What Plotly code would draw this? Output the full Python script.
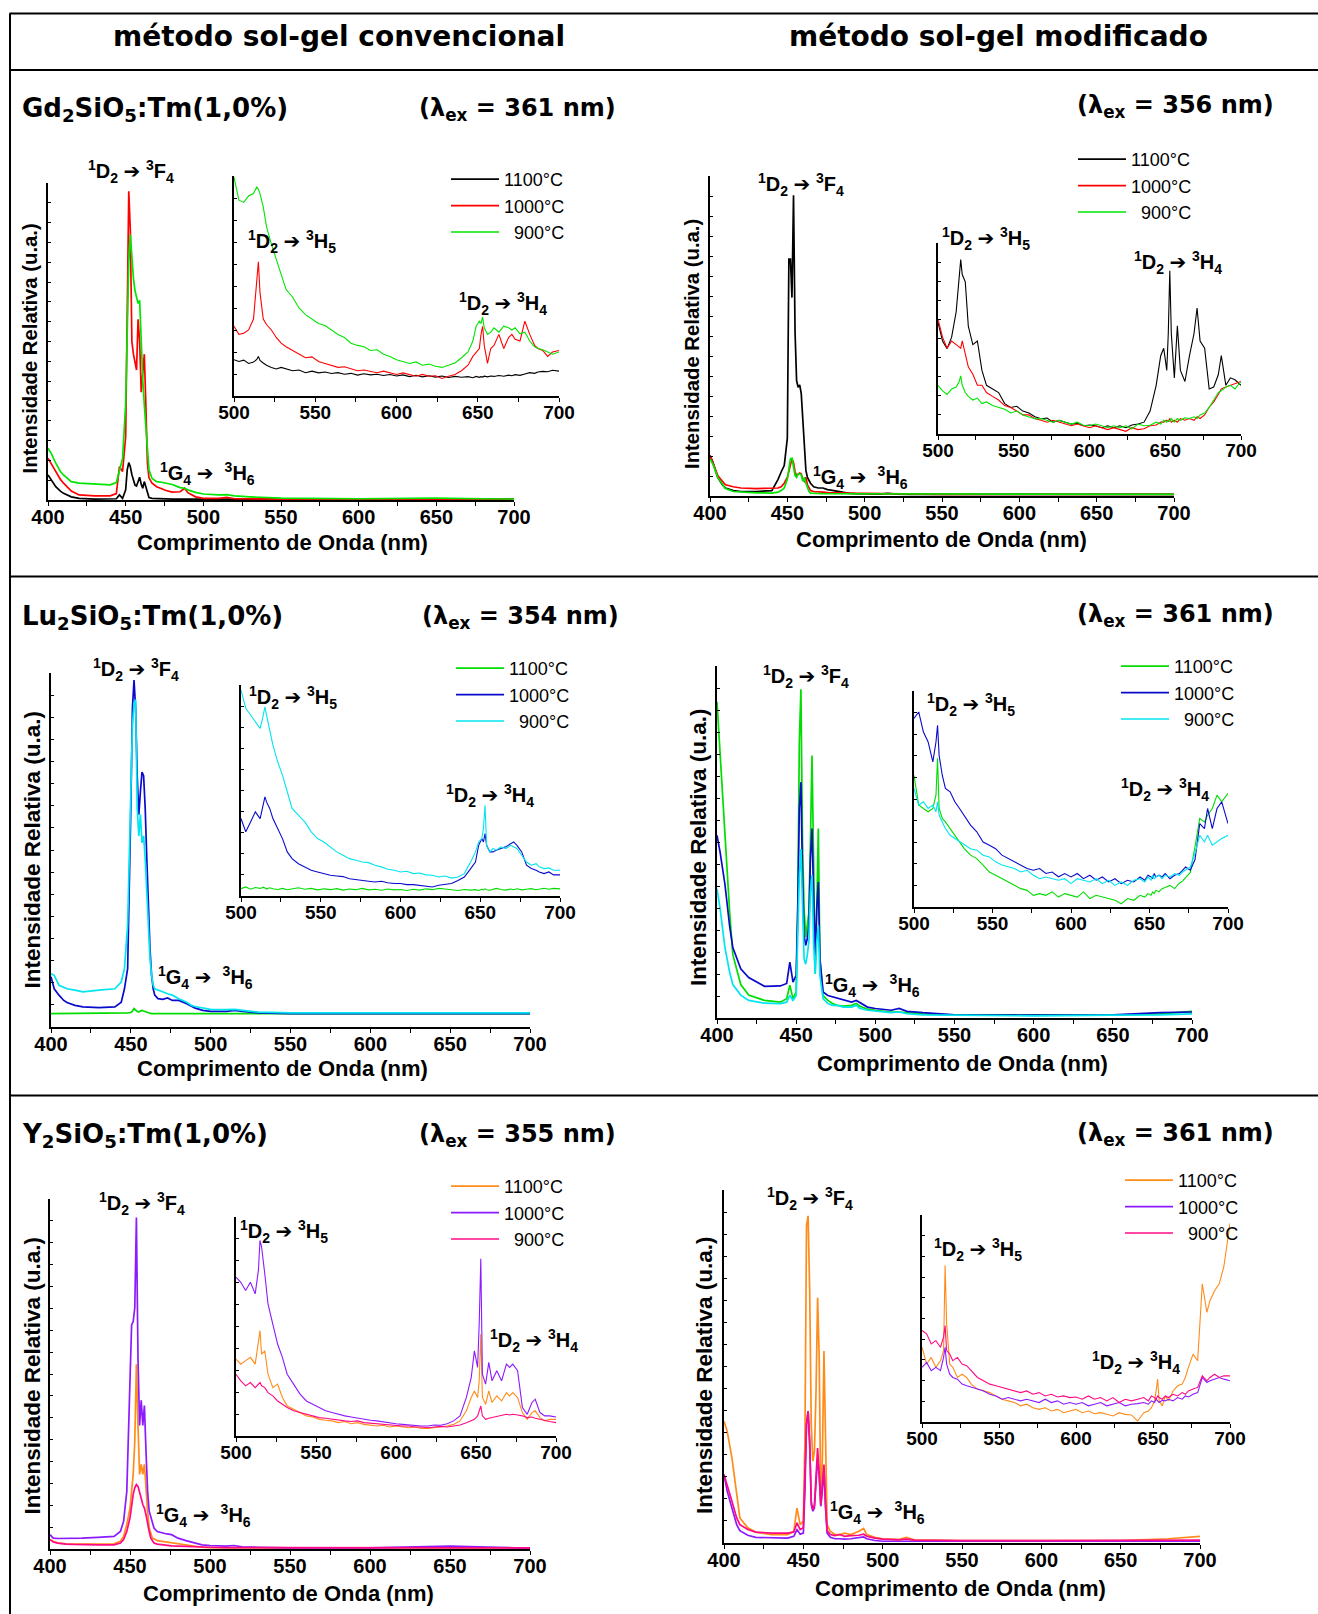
import plotly.graph_objects as go

# ---------------------------------------------------------------- data
X_MAIN = [400, 402, 405, 408, 410, 415, 420, 430, 440, 444,
          446, 448, 450, 451, 452, 453, 454, 455, 456, 457,
          458, 459, 460, 461, 462, 463, 464, 465, 467, 470,
          473, 476, 480, 485, 488, 490, 495, 500, 510, 515,
          520, 530, 550, 600, 650, 680, 700]

X_INSET = [500, 503, 506, 509, 512, 514, 515, 516, 518, 520,
           523, 526, 529, 532, 536, 540, 544, 548, 552, 556,
           560, 564, 568, 572, 576, 580, 584, 588, 592, 596,
           600, 604, 608, 612, 616, 620, 624, 628, 632, 636,
           640, 644, 647, 649, 651, 652, 653, 654, 656, 658,
           660, 663, 666, 669, 671, 673, 676, 679, 682, 685,
           687, 690, 693, 696, 700]

SERIES_LABELS = ["1100°C", "1000°C", "\u2007900°C"]

MAIN_TICKS = [400, 450, 500, 550, 600, 650, 700]
INSET_TICKS = [500, 550, 600, 650, 700]

# --- Gd2SiO5:Tm, conventional sol-gel
GD_CONV_MAIN_1100 = [7.9, 6.3, 4.2, 2.8, 2.1, 1.0, 0.5, 0.3, 0.3, 0.4,
                     1.6, 0.5, 3.2, 9.5, 11.8, 10.5, 8.0, 6.0, 4.7, 4.4,
                     5.8, 7.2, 5.0, 3.7, 5.8, 4.2, 2.1, 0.8, 0.5, 0.4,
                     0.4, 0.4, 0.3, 0.3, 0.3, 0.3, 0.3, 0.3, 0.3, 0.4,
                     0.3, 0.3, 0.3, 0.3, 0.3, 0.3, 0.3]
GD_CONV_MAIN_1000 = [13.2, 11.5, 9.0, 6.5, 5.3, 2.8, 1.6, 1.3, 1.3, 2.0,
                     10.5, 9.0, 20, 62, 97.4, 85, 50, 46, 43, 41,
                     57, 50, 34, 40, 46, 30, 11.6, 7.0, 5.3, 4.2,
                     3.5, 3.0, 2.5, 2.6, 3.7, 2.3, 1.0, 0.5, 0.5, 0.8,
                     0.4, 0.3, 0.3, 0.3, 0.3, 0.3, 0.3]
GD_CONV_MAIN_900 = [16.3, 14.8, 11.6, 9.0, 7.9, 5.8, 5.3, 5.0, 4.8, 5.5,
                    9.0, 13, 30.5, 55, 75, 83.7, 76, 70, 66, 64,
                    62, 63, 47, 38, 30, 22, 13.7, 9.5, 6.8, 5.8,
                    5.6, 5.3, 4.9, 3.9, 3.7, 3.2, 2.4, 1.9, 1.6, 1.7,
                    1.3, 1.0, 0.6, 0.4, 0.6, 0.4, 0.3]
GD_CONV_INSET_1100 = [16.5, 15.7, 16.3, 14.8, 15.4, 16.6, 18, 16.2, 15, 14,
                      13, 12.3, 13, 12.3, 11.5, 11.8, 10.6, 11.3, 10.5, 10.9,
                      10.2, 10.6, 9.9, 10.3, 9.5, 10.1, 9.6, 9.9, 9.3, 9.8,
                      9.1, 9.6, 8.8, 9.4, 8.7, 9.2, 8.6, 9.1, 8.4, 8.9,
                      8.5, 8.8, 8.3, 8.9, 8.5, 8.8, 8.6, 9.0, 8.7, 9.1,
                      8.9, 9.3, 9.0, 9.5, 9.2, 9.7, 9.4, 10.0, 10.6, 10.3,
                      10.9, 11.2, 11.0, 11.7, 11.3]
GD_CONV_INSET_1000 = [31.7, 28, 28.5, 30, 35, 52, 61, 47, 35, 32.5,
                      30, 26.6, 24, 22.4, 20.7, 19, 17.4, 17.8, 15.7, 14.8,
                      14, 13, 13.3, 12.3, 11.5, 11.8, 11.2, 10.6, 11.3, 10.4,
                      9.8, 10.5, 9.6, 9, 9.8, 9, 9.2, 8, 9, 9.8,
                      11.5, 14, 18, 20, 21.6, 28, 31.7, 23, 14.8, 21.6,
                      23, 28, 21.6, 26.6, 28, 25.8, 25, 34, 28, 23,
                      21.6, 20.7, 18, 20, 20.7]
GD_CONV_INSET_900 = [99.5, 89, 88, 91, 92, 95, 94, 92, 86, 77,
                     69, 62, 55, 48.5, 45, 40, 37, 35, 33, 32,
                     30, 28, 26.6, 24, 23, 22.4, 20.7, 21, 19, 18,
                     16.5, 15.7, 14.8, 15.5, 14, 14.5, 13.5, 13, 14, 15,
                     17.4, 20, 25, 31.7, 34, 33, 36, 31, 28, 29,
                     31, 29, 31.7, 31, 30, 31, 28.3, 29, 25, 22.4,
                     21.6, 21, 20, 19, 20]

# --- Gd2SiO5:Tm, modified sol-gel
GD_MOD_MAIN_1100 = [12.7, 10.4, 5.8, 3.5, 2.5, 1.7, 1.4, 1.4, 1.7, 5.2,
                    7.5, 9.5, 18, 74, 74, 62, 94, 51, 36, 34,
                    34.7, 32, 24, 16, 8, 5.8, 4.6, 4.0, 2.9, 2.5,
                    2.5, 2.0, 1.7, 1.2, 1.0, 0.8, 0.7, 0.6, 0.6, 0.8,
                    0.6, 0.5, 0.5, 0.5, 0.6, 0.5, 0.5]
GD_MOD_MAIN_1000 = [12.7, 10.4, 6.4, 4.6, 3.5, 2.9, 2.5, 2.3, 2.3, 2.5,
                    2.9, 4.0, 5.8, 8.0, 10.4, 11.6, 10.4, 7.5, 6.4, 6.9,
                    7.2, 6.9, 5.2, 4.6, 5.8, 3.5, 2.3, 1.7, 1.4, 1.2,
                    1.2, 1.1, 1.0, 1.0, 0.9, 0.9, 0.8, 0.8, 0.7, 0.8,
                    0.6, 0.6, 0.5, 0.5, 0.5, 0.5, 0.5]
GD_MOD_MAIN_900 = [11.6, 9.8, 5.8, 3.5, 2.3, 1.4, 1.2, 1.0, 0.9, 1.2,
                   1.7, 2.5, 5.2, 9.0, 11.6, 11.8, 9.2, 6.4, 5.8, 6.9,
                   6.9, 6.6, 4.6, 5.8, 4.0, 2.3, 1.4, 0.9, 0.8, 0.8,
                   0.7, 0.7, 0.7, 0.6, 0.6, 0.6, 0.6, 0.6, 0.6, 0.7,
                   0.6, 0.6, 0.6, 0.5, 0.6, 0.5, 0.5]
GD_MOD_INSET_1100 = [58.4, 48.7, 44.7, 50.7, 64, 79.7, 91.3, 83.5, 79.7, 56.5,
                     46.8, 48.7, 33.3, 25.5, 23.6, 21.7, 15.9, 13.9, 14.5, 12,
                     11, 9, 8, 8.4, 6.2, 7.1, 6.2, 5.2, 5.6, 4.3,
                     4.7, 4.3, 3.3, 4.3, 3.3, 4.3, 3.3, 4.7, 5.2, 6.2,
                     12, 25.5, 41, 44.9, 33.3, 52.6, 85.5, 52.6, 29.4, 56.6,
                     33.3, 27.5, 41, 52.6, 66, 48.7, 44.9, 23.6, 24.6, 31,
                     41, 25.5, 29.4, 28.4, 25.5]
GD_MOD_INSET_1000 = [60, 50.7, 44.9, 48.7, 46.8, 45.8, 44.9, 48.7, 41, 35.2,
                     31.3, 25.5, 25.5, 21.7, 19.7, 17.8, 14.9, 13.9, 12, 10,
                     10, 8, 7.2, 6.2, 7.2, 6.2, 5.2, 4.3, 5.2, 4.3,
                     3.3, 4.3, 3.3, 2.3, 3.3, 2.3, 1.4, 3.3, 2.3, 2.7,
                     4.3, 4.7, 6.2, 6.2, 7.2, 6.6, 8.1, 6.2, 7.2, 6.2,
                     8.1, 7.2, 8.1, 7.2, 9, 8.1, 10, 14, 16.8, 20.7,
                     23.6, 24.6, 25.5, 26.5, 27.5]
GD_MOD_INSET_900 = [25.5, 22.6, 20.7, 23.6, 24.6, 27.5, 30.4, 25.5, 21.7, 19.7,
                    17.8, 18.8, 15.9, 16.8, 14.9, 13.9, 13, 11, 12, 10,
                    9, 8, 8.1, 7.2, 6.2, 7.2, 6.2, 5.2, 6.2, 4.6,
                    4.3, 5.2, 4.3, 3.3, 4.3, 3.3, 4.3, 2.7, 5.2, 4.3,
                    4.6, 6.2, 5.2, 7.2, 6.2, 7.2, 6.6, 8.1, 6.2, 8.1,
                    7.2, 8.5, 8.1, 9, 8.1, 10, 11, 13.9, 17.8, 21.7,
                    22.6, 24.6, 25.5, 23.6, 27.5]

# --- Lu2SiO5:Tm, conventional sol-gel
LU_CONV_MAIN_1100 = [3.8, 3.8, 3.8, 3.8, 3.8, 3.8, 3.8, 3.8, 3.8, 3.9,
                     3.9, 4.0, 4.1, 4.5, 5.2, 4.8, 4.4, 4.3, 4.6, 4.7,
                     4.5, 4.3, 4.1, 4.0, 3.9, 3.8, 3.8, 3.8, 3.8, 3.8,
                     3.8, 3.8, 3.8, 3.8, 3.8, 3.8, 3.8, 3.8, 3.8, 3.8,
                     3.8, 3.8, 3.8, 3.8, 3.8, 3.8, 3.8]
LU_CONV_MAIN_1000 = [14.2, 10.8, 9.0, 7.5, 6.9, 6.1, 5.7, 5.5, 5.7, 7.0,
                     10.8, 16.5, 61.8, 90, 98, 90, 71, 60, 66.5, 72,
                     71, 61.8, 47.6, 33.5, 22, 14.6, 10.8, 9.0, 8.0, 7.8,
                     8.2, 7.5, 7.5, 6.6, 5.9, 5.4, 4.7, 4.4, 4.4, 4.7,
                     4.4, 4.0, 3.8, 3.8, 4.0, 4.0, 3.8]
LU_CONV_MAIN_900 = [15, 14.6, 11.8, 11.2, 10.8, 10.4, 9.9, 10.4, 10.8, 12.7,
                    16.5, 28.8, 71, 85, 91.5, 92.5, 61.8, 54, 60, 52,
                    54, 47.6, 38, 28.8, 19.4, 14.6, 11.8, 10.8, 10.4, 9.9,
                    9.4, 9.0, 8.0, 7.0, 6.1, 5.8, 5.4, 5.0, 4.9, 5.0,
                    4.7, 4.2, 4.0, 4.0, 4.2, 4.0, 4.0]
LU_CONV_INSET_1100 = [3.5, 4.3, 3.2, 4.0, 3.6, 4.2, 3.8, 3.3, 3.9, 3.4,
                      3.1, 3.6, 3.0, 3.5, 3.9, 3.2, 3.6, 2.9, 3.4, 3.0,
                      3.5, 2.8, 3.3, 3.0, 3.6, 2.9, 3.2, 2.7, 3.3, 2.9,
                      3.1, 2.6, 3.2, 2.8, 3.4, 3.0, 3.6, 3.3, 2.9, 2.6,
                      3.1, 2.8, 3.0, 2.6, 3.2, 2.9, 3.4, 3.0, 2.7, 3.3,
                      3.6, 3.1, 2.8, 3.3, 3.0, 3.4, 2.9, 3.2, 3.5, 3.0,
                      3.3, 3.7, 3.2, 3.6, 3.4]
LU_CONV_INSET_1000 = [36.7, 30.4, 35.1, 39.9, 36.7, 44.6, 47, 44.6, 41.5, 36.7,
                      32, 27.2, 20.9, 17.7, 15.3, 13.8, 12.2, 11.4, 10.6, 9.8,
                      9.5, 9.2, 8.2, 7.9, 7.4, 7, 6.6, 7, 6.3, 5.9,
                      5.9, 5.4, 5.4, 5.1, 4.7, 4.3, 5.1, 5.4, 5.9, 7.4,
                      9, 13, 16.1, 24, 27.2, 25.6, 29.6, 24, 20.9, 20.9,
                      21.7, 22.5, 23.3, 24.8, 25.6, 24, 20.9, 14.6, 13, 12.2,
                      11.4, 10.6, 11.4, 10, 10]
LU_CONV_INSET_900 = [97.6, 89, 85.8, 82.6, 79.4, 85.8, 89.7, 85.8, 77.8, 71.5,
                     63.6, 57.3, 49.4, 41.5, 38.3, 35.1, 30.4, 27.2, 25.6, 23.3,
                     20.9, 19.3, 17.7, 16.9, 16.1, 15.8, 14.6, 13.8, 12.7, 12.2,
                     11.4, 11.7, 10.6, 10.9, 10, 9.8, 9, 9.5, 8.5, 9,
                     10.6, 16.1, 20.9, 25.6, 27.2, 32, 43, 24, 20.9, 22.5,
                     21.7, 23.3, 22.5, 24, 23.3, 22.5, 19.3, 16.1, 14.6, 15.3,
                     13.8, 13, 13.3, 12.2, 12.2]

# --- Lu2SiO5:Tm, modified sol-gel
LU_MOD_MAIN_1100 = [89.8, 74, 50, 30, 18, 9.5, 6.5, 5.0, 4.5, 5.5,
                    9.3, 5.5, 7.4, 31, 78.4, 93.4, 50, 31, 23, 26.3,
                    29.8, 50, 74.6, 45, 12.5, 31, 53.8, 16.8, 6.4, 5.0,
                    4.1, 3.6, 3.4, 3.6, 4.1, 3.4, 2.5, 2.2, 1.7, 1.7,
                    1.5, 1.2, 0.9, 0.8, 0.8, 1.2, 1.9]
LU_MOD_MAIN_1000 = [51.9, 47, 38, 26, 20, 14, 11.5, 9.0, 9.1, 9.8,
                    15.9, 10.2, 12.1, 31, 59.5, 67, 40.5, 23.5, 20.6, 22.5,
                    26.3, 45.3, 53.8, 31, 16.8, 31, 38.6, 16.8, 7.4, 6.4,
                    6.0, 5.5, 5.0, 4.5, 5.0, 4.5, 3.1, 2.7, 2.2, 2.7,
                    1.9, 1.5, 0.9, 0.8, 0.9, 1.5, 1.7]
LU_MOD_MAIN_900 = [36.7, 31, 20, 13, 9.5, 6.5, 5.0, 4.2, 4.1, 4.5,
                   6.4, 5.0, 6.4, 21.6, 40.5, 48, 31, 16.8, 15.3, 17.8,
                   21.6, 35.8, 40.5, 21.6, 12.5, 21.6, 26.3, 12.1, 5.5, 4.1,
                   3.6, 3.6, 3.1, 3.1, 3.6, 2.8, 2.2, 1.9, 1.5, 1.7,
                   1.2, 0.9, 0.8, 0.6, 0.8, 0.9, 1.2]
LU_MOD_INSET_1100 = [61, 47.2, 45.6, 44.1, 45.6, 51.8, 68.8, 45.6, 41, 39.4,
                     36.3, 33.2, 30.1, 27, 24, 22.4, 19.4, 16.2, 14.7, 13.1,
                     11.6, 10, 8.5, 7.7, 5.4, 6.2, 5.4, 7, 4.6, 6.2,
                     5.4, 4.6, 7, 3.9, 5.4, 4.6, 3.9, 3.1, 1.5, 3.9,
                     3.1, 5.4, 4.6, 6.2, 5.4, 7, 6.2, 7.7, 7, 8.5,
                     9, 10, 8.5, 11, 12, 13.5, 16, 28, 41, 39.4,
                     42.5, 45.6, 51.8, 48.7, 52.6]
LU_MOD_INSET_1000 = [87.3, 90.3, 81, 76.4, 67.2, 76.4, 84.1, 70.2, 61, 54.9,
                     53.3, 48.7, 45.6, 42.5, 37.9, 34.8, 30.1, 28.6, 27, 24,
                     22.4, 20.9, 19.4, 17.8, 17, 17.8, 15.5, 16.2, 14, 15.5,
                     13.9, 15.5, 13.1, 14.7, 12.4, 13.9, 11.6, 13.1, 10.8, 12.4,
                     11.6, 13.9, 12.4, 14.7, 13.9, 13.1, 15.5, 13.9, 14.7, 13.9,
                     15.5, 13.1, 14.7, 15.5, 17, 18.5, 17, 22, 38.6, 36.3,
                     45.6, 36.3, 45.6, 48.7, 38.6]
LU_MOD_INSET_900 = [54.9, 47.2, 48.7, 45.6, 47.2, 44.1, 48.7, 42.5, 39.4, 36.3,
                    33.2, 31.7, 30.1, 28.6, 27, 26.3, 24, 23.2, 20.9, 19.4,
                    18.5, 17.8, 16.2, 17, 14.7, 13.1, 13.9, 13.1, 12.4, 13.1,
                    10.8, 13.1, 12.4, 11.6, 13.1, 10.8, 12.4, 10, 11.6, 10,
                    12.4, 13.1, 11.6, 13.9, 12.4, 14.7, 13.1, 13.9, 14.7, 13.1,
                    14.7, 13.9, 15.5, 14.7, 16.2, 17, 18.5, 25, 33.2, 30.1,
                    33.2, 28.6, 30.1, 31.7, 33.2]

# --- Y2SiO5:Tm, conventional sol-gel
Y_CONV_MAIN_1100 = [2.7, 2.2, 1.7, 1.5, 1.5, 1.4, 1.4, 1.4, 1.5, 2.2,
                    3.6, 7.0, 11.7, 16.5, 21.3, 30.8, 52.8, 35.3, 21.3, 24.2,
                    21.3, 24.2, 16.5, 10.8, 6.0, 4.1, 3.1, 2.9, 2.4, 2.2,
                    2.0, 1.7, 1.4, 1.0, 0.8, 0.7, 0.5, 0.4, 0.3, 0.4,
                    0.3, 0.3, 0.3, 0.3, 0.4, 0.3, 0.3]
Y_CONV_MAIN_1000 = [4.1, 3.1, 3.0, 3.0, 3.1, 3.1, 3.1, 3.3, 3.6, 5.0,
                    7.9, 16.5, 45, 64, 65, 69, 94.7, 54.4, 35.3, 42.5,
                    35.3, 41, 28, 16.5, 10.8, 8.9, 7.0, 6.0, 5.0, 4.6,
                    4.3, 4.1, 3.1, 2.4, 2.0, 1.7, 1.2, 1.0, 0.8, 1.0,
                    0.6, 0.5, 0.3, 0.3, 0.8, 0.5, 0.2]
Y_CONV_MAIN_900 = [2.7, 2.0, 1.7, 1.5, 1.4, 1.3, 1.2, 1.2, 1.2, 1.7,
                   2.7, 5.0, 8.9, 12.7, 15.6, 17.5, 18.4, 17.9, 16.5, 14.5,
                   12.7, 11.7, 9.8, 7.0, 5.0, 3.1, 2.2, 1.7, 1.4, 1.2,
                   1.0, 0.9, 0.8, 0.7, 0.6, 0.6, 0.5, 0.5, 0.4, 0.4,
                   0.3, 0.3, 0.3, 0.3, 0.3, 0.3, 0.3]
Y_CONV_INSET_1100 = [35.1, 32.8, 34.4, 35.9, 32.8, 42, 48.1, 37.4, 38.9, 28.2,
                     22.1, 23.7, 17.6, 13.7, 12.2, 10.7, 9.2, 8.7, 7.6, 7.2,
                     6.9, 6.1, 6.6, 5.6, 6.1, 5.3, 5.0, 4.6, 4.9, 4.1,
                     4.6, 4.1, 3.8, 4.1, 3.5, 3.5, 3.8, 4.1, 4.6, 5.3,
                     6.9, 11.5, 17.6, 20.6, 17.6, 25.2, 46.6, 17.6, 14.5, 20.6,
                     15.3, 18.3, 16, 19.8, 18.3, 19.8, 17.6, 10.7, 7.6, 10.7,
                     11.5, 8.4, 6.9, 7.6, 7.6]
Y_CONV_INSET_1000 = [72.5, 70.2, 66.4, 70.2, 64.9, 75.6, 89.3, 86.3, 74, 60.3,
                     51.1, 42, 35.9, 28.2, 23.7, 19.1, 16, 14.5, 13, 11.5,
                     10.7, 9.9, 9.2, 8.7, 8.1, 7.6, 7.2, 6.9, 6.4, 6.1,
                     5.6, 5.3, 5.0, 4.9, 4.6, 4.6, 5.0, 4.9, 5.6, 6.9,
                     9.2, 17.6, 26.7, 38.9, 31.3, 51.1, 80.9, 28.2, 23.7, 33.6,
                     25.2, 29.8, 25.2, 32.8, 31.3, 32.8, 29.8, 13, 9.9, 15.3,
                     16.8, 10.7, 9.2, 9.2, 8.7]
Y_CONV_INSET_900 = [28.2, 25.2, 22.9, 24.4, 22.1, 23.7, 24.4, 22.9, 22.1, 19.8,
                    18.3, 16, 14.5, 13, 11.5, 10.7, 9.9, 9.2, 8.4, 8.1,
                    7.6, 7.2, 6.9, 6.6, 6.9, 6.1, 5.8, 5.6, 5.3, 5.0,
                    4.9, 4.6, 4.6, 4.1, 4.1, 3.8, 4.1, 4.4, 4.1, 4.6,
                    5.0, 6.1, 6.9, 7.6, 9.2, 11.5, 13.7, 9.2, 7.6, 8.1,
                    8.4, 8.7, 9.2, 9.9, 9.6, 9.9, 9.6, 9.2, 8.4, 8.7,
                    8.1, 7.6, 6.9, 6.6, 6.1]

# --- Y2SiO5:Tm, modified sol-gel
Y_MOD_MAIN_1100 = [34.5, 31.7, 24.1, 14.7, 7.1, 4.3, 3.1, 2.4, 2.4, 3.3,
                   9.9, 5.2, 6.2, 28.9, 90, 92.7, 71.5, 33.6, 23.2, 26,
                   43, 69.5, 52.5, 10.8, 24, 54.4, 24, 5.2, 3.3, 2.4,
                   2.4, 2.8, 2.4, 3.3, 4.1, 2.4, 1.6, 1.2, 1.0, 1.6,
                   0.9, 0.8, 0.7, 0.7, 0.7, 1.2, 1.9]
Y_MOD_MAIN_1000 = [19.4, 14.7, 9.9, 5.2, 3.5, 2.2, 1.6, 1.4, 1.4, 1.9,
                   3.8, 2.5, 2.8, 14.7, 33.6, 37.4, 28.9, 10.8, 9.0, 9.9,
                   16.5, 24, 19.4, 10.4, 14.7, 21.3, 9.9, 2.8, 1.6, 1.2,
                   1.2, 1.1, 1.2, 1.4, 1.7, 1.2, 0.7, 0.5, 0.5, 0.6,
                   0.5, 0.5, 0.5, 0.5, 0.5, 0.5, 0.5]
Y_MOD_MAIN_900 = [19.4, 16.6, 11.8, 7.1, 5.2, 3.8, 3.1, 2.8, 2.8, 3.1,
                  5.7, 3.8, 4.3, 19.4, 33.6, 37.4, 28, 11.8, 9.5, 10.8,
                  19.4, 26.9, 19.4, 10.8, 16.6, 22.2, 10.8, 3.5, 2.4, 2.1,
                  2.4, 1.9, 2.1, 2.2, 2.5, 1.9, 1.4, 1.1, 0.9, 1.1,
                  0.8, 0.7, 0.7, 0.7, 0.7, 0.8, 0.8]
Y_MOD_INSET_1100 = [36.1, 28, 31.2, 26.4, 29.6, 34.5, 75.7, 47.4, 28, 26.4,
                    21.5, 23.1, 21.5, 18.3, 15.9, 15, 14.2, 12.6, 11, 10.2,
                    9.4, 7.8, 8.6, 6.9, 6.1, 6.9, 5.3, 6.1, 4.5, 5.3,
                    6.1, 4.5, 5.3, 4, 4.5, 3.7, 2.9, 4.5, 3.7, 3.4,
                    0.5, 4.5, 5.3, 6.9, 10.2, 15, 20.7, 10.2, 7.8, 12.6,
                    10.2, 15, 17.5, 18.3, 21.5, 26.4, 32.8, 29.6, 66.8, 53,
                    58.6, 63.4, 66.8, 75, 96]
Y_MOD_INSET_1000 = [26.4, 28.8, 24.8, 26.4, 24.8, 31.2, 36.1, 28, 23.1, 21.5,
                    20.7, 18.3, 17.5, 16.7, 15.9, 15, 13.4, 12.6, 11, 11.8,
                    11, 10.2, 11, 10.2, 9.4, 11, 9.4, 10.2, 8.6, 9.4,
                    8.6, 9.4, 7.8, 8.6, 9.4, 7.8, 8.6, 9.4, 7.8, 8.6,
                    8.9, 9.4, 8.6, 10.2, 9.4, 11, 10.2, 9.4, 10.5, 10.2,
                    11, 10.2, 11.8, 11, 12.6, 12.1, 13.4, 14.2, 21.5, 19.1,
                    19.9, 20.7, 21.5, 20.7, 19.9]
Y_MOD_INSET_900 = [44.2, 42.6, 37.7, 39.3, 36.1, 41, 46.6, 34.5, 32.8, 29.6,
                   31.2, 28, 27.2, 24.8, 21.5, 19.9, 18.3, 17.5, 16.7, 15.9,
                   15, 14.2, 15, 13.4, 14.2, 12.6, 13.4, 12.1, 12.6, 11.8,
                   12.1, 11, 12.6, 11, 11.8, 10.2, 11.8, 9.4, 11, 10.2,
                   11, 11.8, 10.2, 12.6, 11.8, 11, 12.6, 11.8, 11, 12.6,
                   11.8, 13.4, 12.6, 14.2, 13.4, 15, 15.9, 16.7, 22.3, 19.9,
                   21.5, 23.1, 21.5, 22.3, 22.3]

# ---------------------------------------------------------------- layout helpers
W, H = 1318, 1614


def hx(v):
    return v / W


def vy(v):
    return 1 - v / H


TITLE_FONT = "DejaVu Sans"
ARIAL = "Liberation Sans"
ARROW = "<span style='font-family:DejaVu Sans'>\u2794</span>"

F4 = f"<sup>1</sup>D<sub>2</sub> {ARROW} <sup>3</sup>F<sub>4</sub>"
G4 = f"<sup>1</sup>G<sub>4</sub> {ARROW}  <sup>3</sup>H<sub>6</sub>"
H5 = f"<sup>1</sup>D<sub>2</sub> {ARROW} <sup>3</sup>H<sub>5</sub>"
H4 = f"<sup>1</sup>D<sub>2</sub> {ARROW} <sup>3</sup>H<sub>4</sub>"

PANELS = [
    dict(main=[GD_CONV_MAIN_1100, GD_CONV_MAIN_1000, GD_CONV_MAIN_900],
         inset=[GD_CONV_INSET_1100, GD_CONV_INSET_1000, GD_CONV_INSET_900],
         colors=["#000000", "#ff0000", "#00e600"],
         mbox=(48, 514, 183, 500), ibox=(234, 559, 176, 396),
         leg=(446, 161), ytitle=(29.5, 349, 20.3), xtitle=(282, 543),
         ann=[(F4, 131, 172), (G4, 207, 473), (H5, 292, 242), (H4, 503, 303)],
         label=("Gd<sub>2</sub>SiO<sub>5</sub>:Tm(1,0%)", 20, 109),
         lam=("(\u03bb<sub>ex</sub> = 361 nm)", 417, 109, "left")),
    dict(main=[GD_MOD_MAIN_1100, GD_MOD_MAIN_1000, GD_MOD_MAIN_900],
         inset=[GD_MOD_INSET_1100, GD_MOD_INSET_1000, GD_MOD_INSET_900],
         colors=["#000000", "#ff0000", "#00e600"],
         mbox=(710, 1174, 176, 496), ibox=(938, 1241, 243, 434),
         leg=(1073, 141), ytitle=(692, 344, 20.3), xtitle=(941, 539),
         ann=[(F4, 801, 184), (G4, 860, 477), (H5, 986, 238), (H4, 1178, 263)],
         label=None,
         lam=("(\u03bb<sub>ex</sub> = 356 nm)", 1276, 107, "right")),
    dict(main=[LU_CONV_MAIN_1100, LU_CONV_MAIN_1000, LU_CONV_MAIN_900],
         inset=[LU_CONV_INSET_1100, LU_CONV_INSET_1000, LU_CONV_INSET_900],
         colors=["#00dd00", "#0a0acc", "#00e5f0"],
         mbox=(51, 530, 673, 1027), ibox=(241, 560, 685, 896),
         leg=(451, 650), ytitle=(31.5, 850, 22.5), xtitle=(282, 1068),
         ann=[(F4, 136, 669), (G4, 205, 978), (H5, 293, 697), (H4, 490, 795)],
         label=("Lu<sub>2</sub>SiO<sub>5</sub>:Tm(1,0%)", 20, 617),
         lam=("(\u03bb<sub>ex</sub> = 354 nm)", 420, 617, "left")),
    dict(main=[LU_MOD_MAIN_1100, LU_MOD_MAIN_1000, LU_MOD_MAIN_900],
         inset=[LU_MOD_INSET_1100, LU_MOD_INSET_1000, LU_MOD_INSET_900],
         colors=["#00dd00", "#0a0acc", "#00e5f0"],
         mbox=(717, 1192, 666, 1018), ibox=(914, 1228, 691, 907),
         leg=(1116, 648), ytitle=(698, 847, 22.5), xtitle=(962, 1063),
         ann=[(F4, 806, 676), (G4, 872, 985), (H5, 971, 704), (H4, 1165, 789)],
         label=None,
         lam=("(\u03bb<sub>ex</sub> = 361 nm)", 1276, 615, "right")),
    dict(main=[Y_CONV_MAIN_1100, Y_CONV_MAIN_1000, Y_CONV_MAIN_900],
         inset=[Y_CONV_INSET_1100, Y_CONV_INSET_1000, Y_CONV_INSET_900],
         colors=["#ff8c1a", "#8c1aff", "#ff0a84"],
         mbox=(50, 530, 1199, 1549), ibox=(236, 556, 1217, 1436),
         leg=(446, 1168), ytitle=(31.5, 1376, 22.5), xtitle=(288, 1593),
         ann=[(F4, 142, 1203), (G4, 203, 1515), (H5, 284, 1231), (H4, 534, 1340)],
         label=("Y<sub>2</sub>SiO<sub>5</sub>:Tm(1,0%)", 20, 1135),
         lam=("(\u03bb<sub>ex</sub> = 355 nm)", 417, 1135, "left")),
    dict(main=[Y_MOD_MAIN_1100, Y_MOD_MAIN_1000, Y_MOD_MAIN_900],
         inset=[Y_MOD_INSET_1100, Y_MOD_INSET_1000, Y_MOD_INSET_900],
         colors=["#ff8c1a", "#8c1aff", "#ff0a84"],
         mbox=(724, 1200, 1190, 1543), ibox=(922, 1230, 1215, 1422),
         leg=(1120, 1162), ytitle=(704, 1375, 22.5), xtitle=(960, 1588),
         ann=[(F4, 810, 1198), (G4, 877, 1512), (H5, 978, 1249), (H4, 1136, 1362)],
         label=None,
         lam=("(\u03bb<sub>ex</sub> = 361 nm)", 1276, 1134, "right")),
]

fig = go.Figure()
layout = dict(width=W, height=H, autosize=False,
              margin=dict(l=0, r=0, t=0, b=0, pad=0, autoexpand=False),
              paper_bgcolor="white", plot_bgcolor="rgba(0,0,0,0)",
              showlegend=True, annotations=[], shapes=[])


def axis_name(n):
    return "" if n == 1 else str(n)


for i, p in enumerate(PANELS):
    mi, ii = 2 * i + 1, 2 * i + 2
    leg_name = "legend" if i == 0 else f"legend{i + 1}"
    for k in range(3):
        fig.add_trace(go.Scatter(
            x=X_MAIN, y=p["main"][k], mode="lines", name=SERIES_LABELS[k],
            line=dict(color=p["colors"][k], width=1.7),
            xaxis="x" + axis_name(mi), yaxis="y" + axis_name(mi),
            legend=leg_name, showlegend=True, hoverinfo="skip"))
    for k in range(3):
        fig.add_trace(go.Scatter(
            x=X_INSET, y=p["inset"][k], mode="lines", name=SERIES_LABELS[k],
            line=dict(color=p["colors"][k], width=1.1),
            xaxis="x" + axis_name(ii), yaxis="y" + axis_name(ii),
            showlegend=False, hoverinfo="skip"))

    for (n, box, ticks, rng, fsize, dt) in (
            (mi, p["mbox"], MAIN_TICKS, [400, 700], 20, 6.25),
            (ii, p["ibox"], INSET_TICKS, [500, 700], 19, 10)):
        l, r, t, b = box
        layout["xaxis" + axis_name(n)] = dict(
            domain=[hx(l), hx(r)], range=rng, anchor="y" + axis_name(n),
            showline=True, linecolor="black", linewidth=1.6,
            ticks="outside", ticklen=4, tickwidth=1.2, tickcolor="black",
            tickmode="array", tickvals=ticks, ticklabelstandoff=-6,
            minor=dict(dtick=25, tick0=400, ticks="outside", ticklen=4,
                       tickwidth=1.2, tickcolor="black", showgrid=False),
            tickfont=dict(family=ARIAL, size=fsize, color="black", weight="bold"),
            showgrid=False, zeroline=False, fixedrange=True, automargin=False)
        layout["yaxis" + axis_name(n)] = dict(
            domain=[vy(b), vy(t)], range=[0, 100], anchor="x" + axis_name(n),
            showline=True, linecolor="black", linewidth=1.6,
            ticks="inside", ticklen=3, tickwidth=1, tickcolor="black",
            tick0=0, dtick=dt, showticklabels=False,
            showgrid=False, zeroline=False, fixedrange=True, automargin=False)

    lx, ly = p["leg"]
    layout[leg_name] = dict(
        x=hx(lx), y=vy(ly), xanchor="left", yanchor="top",
        bgcolor="rgba(0,0,0,0)", borderwidth=0, itemwidth=48,
        font=dict(family=ARIAL, size=18, color="black"),
        tracegroupgap=0, traceorder="normal",
        itemclick=False, itemdoubleclick=False)

    anns = layout["annotations"]
    for txt, ax, ay in p["ann"]:
        anns.append(dict(text=f"<b>{txt}</b>", x=hx(ax), y=vy(ay),
                         xref="paper", yref="paper", showarrow=False,
                         xanchor="center", yanchor="middle",
                         font=dict(family=ARIAL, size=20, color="black")))
    tx, ty, ts = p["ytitle"]
    anns.append(dict(text="<b>Intensidade Relativa (u.a.)</b>", x=hx(tx), y=vy(ty),
                     xref="paper", yref="paper", showarrow=False, textangle=-90,
                     xanchor="center", yanchor="middle",
                     font=dict(family=ARIAL, size=ts, color="black")))
    cx, cy = p["xtitle"]
    anns.append(dict(text="<b>Comprimento de Onda (nm)</b>", x=hx(cx), y=vy(cy),
                     xref="paper", yref="paper", showarrow=False,
                     xanchor="center", yanchor="middle",
                     font=dict(family=ARIAL, size=22, color="black")))
    if p["label"]:
        txt, ax, ay = p["label"]
        anns.append(dict(text=f"<b>{txt}</b>", x=hx(ax), y=vy(ay),
                         xref="paper", yref="paper", showarrow=False,
                         xanchor="left", yanchor="middle",
                         font=dict(family=TITLE_FONT, size=26, color="black")))
    txt, ax, ay, anc = p["lam"]
    anns.append(dict(text=f"<b>{txt}</b>", x=hx(ax), y=vy(ay),
                     xref="paper", yref="paper", showarrow=False,
                     xanchor=anc, yanchor="middle",
                     font=dict(family=TITLE_FONT, size=24, color="black")))

# column headers
for txt, cx in (("método sol-gel convencional", 339), ("método sol-gel modificado", 998)):
    layout["annotations"].append(dict(
        text=f"<b>{txt}</b>", x=hx(cx), y=vy(37), xref="paper", yref="paper",
        showarrow=False, xanchor="center", yanchor="middle",
        font=dict(family=TITLE_FONT, size=28, color="black")))

# table frame
for yy in (13.5, 70, 576.5, 1095.5):
    layout["shapes"].append(dict(type="line", xref="paper", yref="paper",
                                 x0=hx(9.5), x1=1, y0=vy(yy), y1=vy(yy),
                                 line=dict(color="black", width=2)))
layout["shapes"].append(dict(type="line", xref="paper", yref="paper",
                             x0=hx(10), x1=hx(10), y0=vy(13.5), y1=0,
                             line=dict(color="black", width=2)))

fig.update_layout(**layout)

POST = ("document.documentElement.style.margin='0';"
        "document.documentElement.style.overflow='hidden';"
        "document.body.style.margin='0';document.body.style.padding='0';"
        "document.body.style.overflow='hidden';"
        "var gd=document.getElementById('{plot_id}');"
        "gd.style.width='1318px';gd.style.height='1614px';"
        "Plotly.relayout(gd,{width:1318,height:1614});")

fig.write_html("out.html", config={"responsive": False, "displayModeBar": False},
               post_script=POST)
